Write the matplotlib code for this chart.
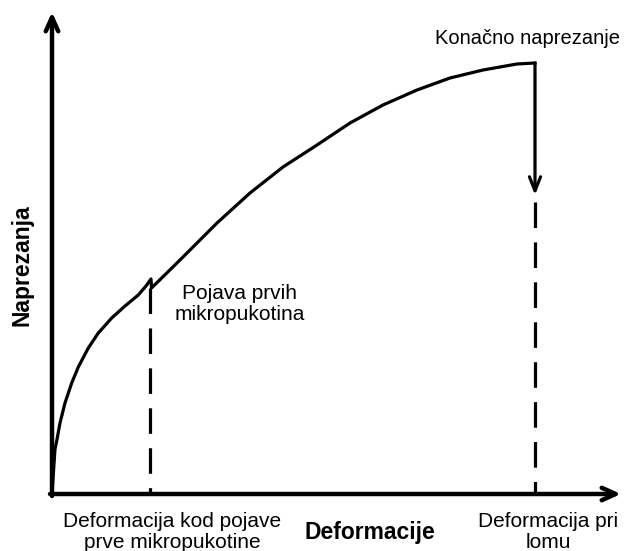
import matplotlib
matplotlib.use("Agg")
import matplotlib.pyplot as plt

plt.rcParams['font.family'] = ['Liberation Sans', 'DejaVu Sans']

# krivulja naprezanje - deformacija (proizvoljne jedinice)
strain = [0, 2, 3, 4.7, 8, 13, 19.7, 26.3, 36.3, 46.3, 59.7, 73, 86.3, 94, 99, 99.5,
          109.7, 131, 165, 198, 231, 265, 298, 331, 365, 398, 431, 465, 483]
stress = [0, 30, 45, 53, 71, 91, 111, 127, 146, 161, 176, 188, 199, 208, 215, 206,
          216, 237, 271, 301, 327, 349, 371, 389, 404, 416, 424, 430, 431]

eps_crack = 98      # deformacija kod pojave prve mikropukotine
eps_break = 483     # deformacija pri lomu
sig_max = 431       # konacno naprezanje
sig_arrow_end = 299
sig_crack_drop = 206
sig_break_dash = 292

x_label = 'Deformacije'
y_label = 'Naprezanja'

fig = plt.figure(figsize=(6.25, 5.51), dpi=100)
ax = fig.add_axes([0, 0, 1, 1])
ax.set_xlim(-52, 573)
ax.set_ylim(-57, 494)
ax.axis('off')

# osi sa strelicama
ax.annotate('', xy=(0, 482), xytext=(0, -2),
            arrowprops=dict(arrowstyle='->,head_length=1.0,head_width=0.45', lw=3.2, color='black',
                            shrinkA=0, shrinkB=0))
ax.annotate('', xy=(569, 0), xytext=(-2, 0),
            arrowprops=dict(arrowstyle='->,head_length=1.0,head_width=0.45', lw=3.2, color='black',
                            shrinkA=0, shrinkB=0))

ax.plot(strain, stress, color='black', lw=2.3, solid_joinstyle='round')

# pad naprezanja
ax.annotate('', xy=(eps_break, sig_arrow_end), xytext=(eps_break, sig_max),
            arrowprops=dict(arrowstyle='->,head_length=1.0,head_width=0.4', lw=2.3, color='black',
                            shrinkA=0, shrinkB=0))

# isprekidane linije
ax.plot([eps_crack, eps_crack], [sig_crack_drop, 0], color='black', lw=2.3, dashes=(8, 4.5))
ax.plot([eps_break, eps_break], [sig_break_dash, 0], color='black', lw=2.3, dashes=(8, 4.5))

# tekst
ax.text(188, 190, 'Pojava prvih\nmikropukotina', ha='center', va='center', fontsize=15,
        linespacing=1.1)
ax.text(383, 456, 'Konačno naprezanje', ha='left', va='center', fontsize=14.5)
ax.text(120, -38, 'Deformacija kod pojave\nprve mikropukotine', ha='center', va='center', fontsize=15,
        linespacing=1.1)
ax.text(496, -38, 'Deformacija pri\nlomu', ha='center', va='center', fontsize=15,
        linespacing=1.1)
ax.text(318, -38, x_label, ha='center', va='center', fontsize=16.5, fontweight='bold')
ax.text(-30, 229, y_label, ha='center', va='center', fontsize=16.5, fontweight='bold', rotation=90)

fig.savefig('out.png', dpi=100)
